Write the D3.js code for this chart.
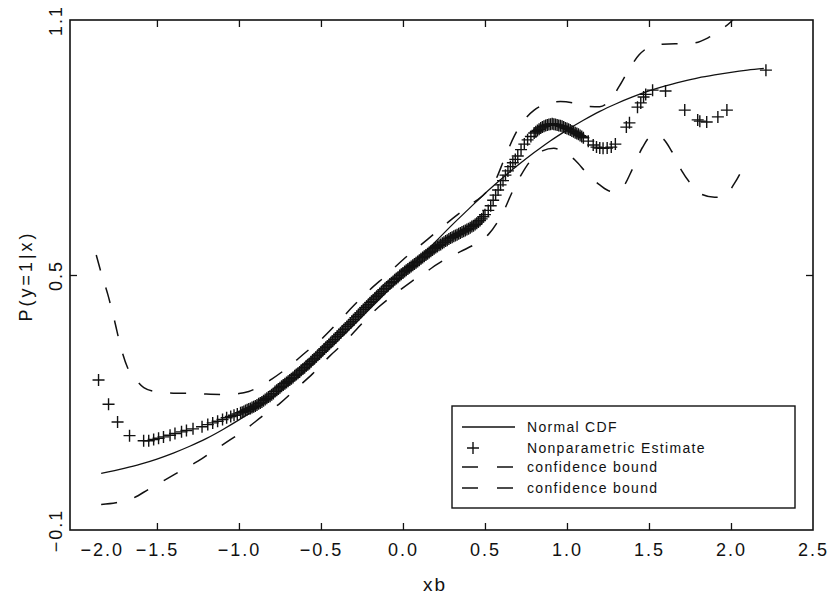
<!DOCTYPE html>
<html>
<head>
<meta charset="utf-8">
<script src="https://cdn.jsdelivr.net/npm/d3@7"></script>
<style>
  body { margin: 0; background: #fff; }
  svg { display: block; font-family: "Liberation Sans", Arial, sans-serif; }
</style>
</head>
<body>
<div id="chart"></div>
<script>
// tick labels
const xTicks = [-2.0, -1.5, -1.0, -0.5, 0.0, 0.5, 1.0, 1.5, 2.0, 2.5];
const yTicks = [-0.1, 0.5, 1.1];

// solid curve
const normalCdf = [
  [-1.84, 0.033], [-1.7, 0.045], [-1.6, 0.055], [-1.5, 0.067], [-1.4, 0.081],
  [-1.3, 0.097], [-1.2, 0.115], [-1.1, 0.136], [-1.0, 0.159], [-0.9, 0.184],
  [-0.8, 0.212], [-0.7, 0.242], [-0.6, 0.274], [-0.5, 0.309], [-0.4, 0.345],
  [-0.3, 0.382], [-0.2, 0.421], [-0.1, 0.460], [0.0, 0.500], [0.1, 0.540],
  [0.2, 0.579], [0.3, 0.618], [0.4, 0.655], [0.5, 0.692], [0.6, 0.726],
  [0.7, 0.758], [0.8, 0.788], [0.9, 0.816], [1.0, 0.841], [1.1, 0.864],
  [1.2, 0.885], [1.3, 0.903], [1.4, 0.919], [1.5, 0.933], [1.6, 0.945],
  [1.7, 0.955], [1.8, 0.964], [1.9, 0.971], [2.0, 0.977], [2.1, 0.982],
  [2.2, 0.986]
];

// "+" markers
const estimate = [
  [-1.856, 0.253], [-1.795, 0.196], [-1.740, 0.154], [-1.667, 0.122],
  [-1.581, 0.110], [-1.550, 0.110], [-1.520, 0.113], [-1.490, 0.116], [-1.460, 0.119],
  [-1.420, 0.123], [-1.390, 0.127], [-1.350, 0.131], [-1.320, 0.134], [-1.280, 0.138],
  [-1.225, 0.143], [-1.190, 0.148], [-1.160, 0.152], [-1.130, 0.156], [-1.100, 0.160],
  [-1.075, 0.164], [-1.050, 0.167], [-1.030, 0.170], [-1.010, 0.173], [-0.990, 0.176],
  [-0.970, 0.179], [-0.950, 0.183], [-0.930, 0.186], [-0.910, 0.190], [-0.890, 0.194],
  [-0.870, 0.199], [-0.850, 0.204], [-0.830, 0.210], [-0.810, 0.215], [-0.790, 0.221],
  [-0.78, 0.226], [-0.76, 0.232], [-0.74, 0.238], [-0.72, 0.244], [-0.70, 0.250],
  [-0.68, 0.256], [-0.66, 0.263], [-0.64, 0.269], [-0.62, 0.276], [-0.60, 0.282],
  [-0.58, 0.289], [-0.56, 0.296], [-0.54, 0.303], [-0.52, 0.311], [-0.50, 0.318],
  [-0.48, 0.326], [-0.46, 0.333], [-0.44, 0.341], [-0.42, 0.348], [-0.40, 0.356],
  [-0.38, 0.364], [-0.36, 0.372], [-0.34, 0.379], [-0.32, 0.387], [-0.30, 0.395],
  [-0.28, 0.403], [-0.26, 0.411], [-0.24, 0.419], [-0.22, 0.427], [-0.20, 0.435],
  [-0.18, 0.442], [-0.16, 0.450], [-0.14, 0.457], [-0.12, 0.465], [-0.10, 0.472],
  [-0.08, 0.479], [-0.06, 0.485], [-0.04, 0.492], [-0.02, 0.499], [0.00, 0.505],
  [0.02, 0.511], [0.04, 0.517], [0.06, 0.523], [0.08, 0.529], [0.10, 0.535],
  [0.12, 0.541], [0.14, 0.547], [0.16, 0.553], [0.18, 0.559], [0.20, 0.565],
  [0.22, 0.570], [0.24, 0.575], [0.26, 0.580], [0.28, 0.585], [0.30, 0.589],
  [0.32, 0.593], [0.34, 0.597], [0.36, 0.601], [0.38, 0.605], [0.40, 0.609],
  [0.42, 0.614], [0.44, 0.619], [0.46, 0.625], [0.48, 0.632], [0.50, 0.642],
  [0.52, 0.652], [0.535, 0.663], [0.55, 0.676], [0.565, 0.688], [0.58, 0.700],
  [0.595, 0.712], [0.61, 0.722], [0.625, 0.735], [0.64, 0.745], [0.655, 0.755],
  [0.67, 0.764], [0.685, 0.772], [0.70, 0.780], [0.72, 0.795], [0.74, 0.808],
  [0.76, 0.818], [0.78, 0.826], [0.80, 0.834], [0.82, 0.840], [0.84, 0.846],
  [0.86, 0.850], [0.88, 0.853], [0.90, 0.855], [0.92, 0.855], [0.94, 0.853],
  [0.96, 0.851], [0.98, 0.848], [1.00, 0.845], [1.02, 0.841], [1.04, 0.837],
  [1.06, 0.833], [1.08, 0.828], [1.10, 0.823], [1.13, 0.815], [1.16, 0.806],
  [1.18, 0.801], [1.20, 0.799], [1.22, 0.798], [1.245, 0.799], [1.27, 0.801],
  [1.295, 0.808],
  [1.362, 0.848], [1.381, 0.858], [1.430, 0.895], [1.450, 0.905], [1.467, 0.919],
  [1.480, 0.925], [1.522, 0.935], [1.601, 0.933], [1.718, 0.888], [1.797, 0.865],
  [1.810, 0.862], [1.852, 0.860], [1.920, 0.872], [1.975, 0.888], [2.213, 0.982]
];

// the dense part of the estimate, where the markers merge into a band
const estimateBand = [
  [-0.98, 0.177], [-0.96, 0.181], [-0.94, 0.185], [-0.92, 0.188], [-0.90, 0.192],
  [-0.88, 0.197], [-0.86, 0.201], [-0.84, 0.207], [-0.82, 0.213], [-0.80, 0.218],
  [-0.77, 0.229], [-0.75, 0.235], [-0.73, 0.241], [-0.71, 0.247], [-0.69, 0.253],
  [-0.67, 0.259], [-0.65, 0.266], [-0.63, 0.272], [-0.61, 0.279], [-0.59, 0.286],
  [-0.57, 0.292], [-0.55, 0.300], [-0.53, 0.307], [-0.51, 0.314], [-0.49, 0.322],
  [-0.47, 0.330], [-0.45, 0.337], [-0.43, 0.344], [-0.41, 0.352], [-0.39, 0.360],
  [-0.37, 0.368], [-0.35, 0.375], [-0.33, 0.383], [-0.31, 0.391], [-0.29, 0.399],
  [-0.27, 0.407], [-0.25, 0.415], [-0.23, 0.423], [-0.21, 0.431], [-0.19, 0.438],
  [-0.17, 0.446], [-0.15, 0.453], [-0.13, 0.461], [-0.11, 0.468], [-0.09, 0.475],
  [-0.07, 0.482], [-0.05, 0.489], [-0.03, 0.495], [-0.01, 0.502], [0.01, 0.508],
  [0.03, 0.514], [0.05, 0.520], [0.07, 0.526], [0.09, 0.532], [0.11, 0.538],
  [0.13, 0.544], [0.15, 0.550], [0.17, 0.556], [0.19, 0.562], [0.21, 0.567],
  [0.23, 0.572], [0.25, 0.577], [0.27, 0.582], [0.29, 0.587], [0.31, 0.591],
  [0.33, 0.595], [0.35, 0.599], [0.37, 0.603], [0.39, 0.607], [0.41, 0.611],
  [0.43, 0.616], [0.45, 0.622], [0.47, 0.628], [0.49, 0.637],
  [0.81, 0.837], [0.83, 0.843], [0.85, 0.848], [0.87, 0.852], [0.89, 0.854],
  [0.91, 0.856], [0.93, 0.854], [0.95, 0.852], [0.97, 0.850], [0.99, 0.846],
  [1.01, 0.843], [1.03, 0.839], [1.05, 0.835], [1.07, 0.831], [1.09, 0.826]
];

// dashed bounds
const upperBound = [
  [-1.87, 0.547], [-1.84, 0.505], [-1.80, 0.455], [-1.76, 0.395], [-1.72, 0.330],
  [-1.68, 0.283], [-1.63, 0.255], [-1.58, 0.235], [-1.50, 0.225], [-1.40, 0.222],
  [-1.30, 0.222], [-1.20, 0.220], [-1.10, 0.219], [-1.00, 0.221], [-0.94, 0.226],
  [-0.88, 0.236], [-0.80, 0.255], [-0.70, 0.283], [-0.60, 0.316], [-0.50, 0.348],
  [-0.40, 0.387], [-0.30, 0.428], [-0.20, 0.466], [-0.10, 0.500], [0.00, 0.536],
  [0.10, 0.568], [0.20, 0.600], [0.30, 0.632], [0.40, 0.662], [0.50, 0.692],
  [0.56, 0.720], [0.62, 0.775], [0.68, 0.828], [0.74, 0.865], [0.80, 0.888],
  [0.88, 0.903], [0.96, 0.908], [1.04, 0.905], [1.12, 0.897], [1.20, 0.896],
  [1.26, 0.910], [1.32, 0.945], [1.38, 0.985], [1.44, 1.018], [1.50, 1.036],
  [1.58, 1.043], [1.66, 1.044], [1.72, 1.044], [1.78, 1.046], [1.86, 1.058],
  [1.94, 1.078], [2.00, 1.096], [2.02, 1.104]
];
const lowerBound = [
  [-1.84, -0.040], [-1.75, -0.036], [-1.65, -0.026], [-1.55, -0.004], [-1.45, 0.018],
  [-1.35, 0.040], [-1.25, 0.062], [-1.15, 0.088], [-1.05, 0.113], [-0.95, 0.140],
  [-0.85, 0.170], [-0.75, 0.198], [-0.65, 0.233], [-0.55, 0.268], [-0.45, 0.308],
  [-0.35, 0.344], [-0.25, 0.386], [-0.15, 0.424], [-0.05, 0.455], [0.05, 0.484],
  [0.15, 0.510], [0.25, 0.535], [0.35, 0.555], [0.45, 0.575], [0.52, 0.595],
  [0.58, 0.627], [0.62, 0.655], [0.66, 0.690], [0.72, 0.735], [0.78, 0.770],
  [0.85, 0.792], [0.92, 0.798], [0.98, 0.790], [1.05, 0.770], [1.12, 0.740],
  [1.20, 0.712], [1.27, 0.697], [1.33, 0.703], [1.40, 0.750], [1.46, 0.800],
  [1.52, 0.828], [1.58, 0.822], [1.64, 0.790], [1.70, 0.745], [1.76, 0.712],
  [1.82, 0.690], [1.90, 0.683], [1.96, 0.685], [2.02, 0.715], [2.09, 0.765]
];

const legendLabels = ["Normal CDF", "Nonparametric Estimate", "confidence bound", "confidence bound"];

const margin = { top: 20, right: 19, bottom: 66, left: 70 };
const width = 832 - margin.left - margin.right,
  height = 596 - margin.top - margin.bottom;
const ink = "#111";

const svg = d3.select("#chart")
  .append("svg")
  .attr("width", 832)
  .attr("height", 596);

const g = svg.append("g")
  .attr("transform", "translate(" + margin.left + "," + margin.top + ")");

const xScale = d3.scaleLinear().domain([-2.03, 2.5]).range([0, width]);
const yScale = d3.scaleLinear().domain([-0.1, 1.1]).range([height, 0]);

g.append("clipPath").attr("id", "plot-clip")
  .append("rect").attr("width", width).attr("height", height);

// axes: ticks point inward
const fmt = d3.format(".1f");
const xAxis = g.append("g")
  .attr("transform", "translate(0," + height + ")")
  .call(d3.axisBottom(xScale).tickValues(xTicks).tickSize(-7).tickPadding(13).tickFormat(fmt));
const xTop = g.append("g")
  .call(d3.axisTop(xScale).tickValues(xTicks).tickSize(-7).tickFormat(""));
const yLeft = g.append("g")
  .call(d3.axisLeft(yScale).tickValues(yTicks).tickSize(-7).tickFormat(fmt));
const yRight = g.append("g")
  .attr("transform", "translate(" + width + ",0)")
  .call(d3.axisRight(yScale).tickValues(yTicks).tickSize(-7).tickFormat(""));

[xAxis, xTop, yLeft, yRight].forEach(a => {
  a.select(".domain").remove();
  a.selectAll("line").attr("stroke", ink).attr("stroke-width", 1.3);
});
// no tick marks on the frame corners
xAxis.selectAll(".tick").filter(d => d === -2.0 || d === 2.5).select("line").remove();
xTop.selectAll(".tick").filter(d => d === -2.0 || d === 2.5).select("line").remove();
yLeft.selectAll(".tick").filter(d => d !== 0.5).select("line").remove();
yRight.selectAll(".tick").filter(d => d !== 0.5).select("line").remove();

xAxis.selectAll("text")
  .attr("fill", ink)
  .style("font-size", "18px")
  .style("letter-spacing", "2px");
xAxis.selectAll(".tick").filter(d => d === -2.0).select("text")
  .attr("text-anchor", "start").attr("x", 5);

yLeft.selectAll("text")
  .attr("fill", ink)
  .attr("transform", "rotate(-90)")
  .attr("x", 0).attr("y", -8).attr("dy", 0)
  .attr("text-anchor", "middle")
  .style("font-size", "18px")
  .style("letter-spacing", "2px");

// frame
g.append("rect")
  .attr("width", width).attr("height", height)
  .attr("fill", "none").attr("stroke", ink).attr("stroke-width", 1.6);

// axis titles
svg.append("text")
  .text("xb")
  .attr("x", 435).attr("y", 591)
  .attr("text-anchor", "middle")
  .attr("fill", ink)
  .style("font-size", "19px")
  .style("letter-spacing", "2px");

svg.append("text")
  .text("P(y=1|x)")
  .attr("transform", "translate(32,276) rotate(-90)")
  .attr("text-anchor", "middle")
  .attr("fill", ink)
  .style("font-size", "18px")
  .style("letter-spacing", "3px");

// curves
const line = d3.line()
  .x(d => xScale(d[0]))
  .y(d => yScale(d[1]))
  .curve(d3.curveMonotoneX);

const plot = g.append("g").attr("clip-path", "url(#plot-clip)");

plot.append("path")
  .datum(upperBound)
  .attr("d", line)
  .attr("fill", "none").attr("stroke", ink).attr("stroke-width", 1.5)
  .attr("stroke-dasharray", "16,18");

plot.append("path")
  .datum(lowerBound)
  .attr("d", line)
  .attr("fill", "none").attr("stroke", ink).attr("stroke-width", 1.5)
  .attr("stroke-dasharray", "16,18");

plot.append("path")
  .datum(normalCdf)
  .attr("d", line)
  .attr("fill", "none").attr("stroke", ink).attr("stroke-width", 1.3);

const cross = "M-6,0H6M0,-6V6";
plot.selectAll(".est")
  .data(estimate.concat(estimateBand))
  .enter()
  .append("path")
  .attr("class", "est")
  .attr("d", cross)
  .attr("transform", d => "translate(" + xScale(d[0]) + "," + yScale(d[1]) + ")")
  .attr("fill", "none").attr("stroke", ink).attr("stroke-width", 1.4);

// legend
const legend = svg.append("g").attr("transform", "translate(452,406)");
legend.append("rect")
  .attr("width", 343).attr("height", 102)
  .attr("fill", "#fff").attr("stroke", ink).attr("stroke-width", 1.4);

const rowY = [21, 42, 61, 82];
legendLabels.forEach((label, i) => {
  const row = legend.append("g").attr("transform", "translate(0," + rowY[i] + ")");
  if (i === 0) {
    row.append("line").attr("x1", 10).attr("x2", 63)
      .attr("stroke", ink).attr("stroke-width", 1.3);
  } else if (i === 1) {
    row.append("path").attr("d", cross).attr("transform", "translate(21,0)")
      .attr("fill", "none").attr("stroke", ink).attr("stroke-width", 1.4);
  } else {
    row.append("line").attr("x1", 10).attr("x2", 63)
      .attr("stroke", ink).attr("stroke-width", 1.5)
      .attr("stroke-dasharray", "16,19");
  }
  row.append("text")
    .text(label)
    .attr("x", 75).attr("y", 5)
    .attr("fill", ink)
    .style("font-size", "14px")
    .style("letter-spacing", "1.3px");
});
</script>
</body>
</html>
